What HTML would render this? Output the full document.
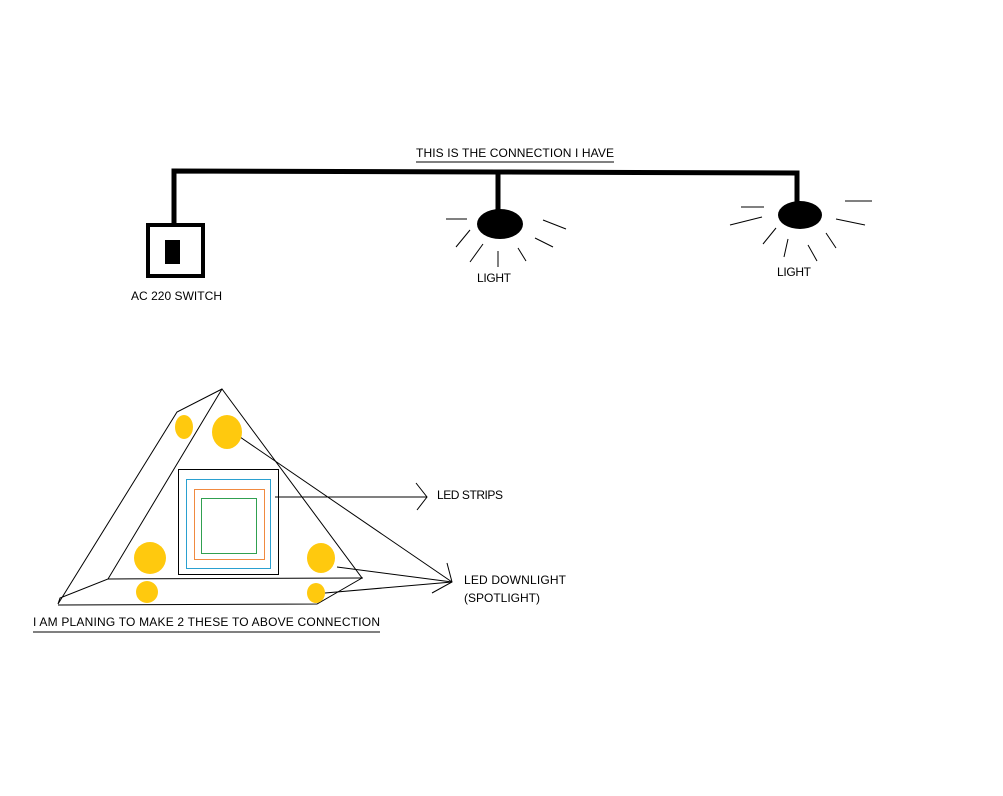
<!DOCTYPE html>
<html><head><style>html,body{margin:0;padding:0;background:#fff}svg{display:block}</style></head><body>
<svg width="1003" height="796" viewBox="0 0 1003 796" xmlns="http://www.w3.org/2000/svg" font-family="Liberation Sans, sans-serif" font-size="12">
<rect width="1003" height="796" fill="#fff"/>
<g stroke="#000" fill="none">
<polyline points="174,224 174,171 497,172 797,173 797,205" stroke-width="5"/>
<line x1="498" y1="172" x2="498" y2="212" stroke-width="5"/>
<rect x="148" y="225" width="55" height="51" stroke-width="4"/>
</g>
<rect x="165" y="240" width="15" height="24" fill="#000"/>
<ellipse cx="500" cy="224" rx="23" ry="15" fill="#000"/>
<ellipse cx="800" cy="215" rx="22" ry="14" fill="#000"/>
<g stroke="#000" stroke-width="1">
<line x1="446" y1="219" x2="467" y2="219"/><line x1="456" y1="247" x2="470" y2="230"/>
<line x1="470" y1="262" x2="483" y2="244"/><line x1="498" y1="251" x2="498" y2="267"/>
<line x1="518" y1="248" x2="526" y2="261"/><line x1="535" y1="238" x2="553" y2="247"/>
<line x1="543" y1="220" x2="566" y2="229"/>
<line x1="741" y1="207" x2="764" y2="207"/><line x1="730" y1="225" x2="762" y2="217"/>
<line x1="763" y1="244" x2="776" y2="228"/><line x1="784" y1="257" x2="788" y2="239"/>
<line x1="808" y1="245" x2="817" y2="261"/><line x1="826" y1="233" x2="836" y2="248"/>
<line x1="836" y1="219" x2="865" y2="225"/><line x1="845" y1="201" x2="872" y2="201"/>
</g>
<text x="416" y="157" textLength="198">THIS IS THE CONNECTION I HAVE</text>
<line x1="416" y1="162" x2="614" y2="162" stroke="#000"/>
<text x="131" y="300" textLength="91">AC 220 SWITCH</text>
<text x="477" y="282" textLength="34">LIGHT</text>
<text x="777" y="276" textLength="34">LIGHT</text>
<g stroke="#000" fill="none" stroke-width="1">
<polyline points="222,389 177,412 58,604 60,598 108,579 222,389 362,578 317,604 58,605"/>
<line x1="108" y1="579" x2="363" y2="578"/>
<rect x="178.5" y="469.5" width="100" height="105"/>
<rect x="186.5" y="479.5" width="84" height="89" stroke="#2aa0d0"/>
<rect x="194.5" y="489.5" width="70" height="70" stroke="#f08a40"/>
<rect x="201.5" y="498.5" width="55" height="55" stroke="#30a050"/>
<line x1="275" y1="497" x2="427" y2="497"/>
<polyline points="416,483 427,497 417,510"/>
<line x1="240" y1="437" x2="452" y2="582"/>
<line x1="337" y1="567" x2="452" y2="582"/>
<line x1="325" y1="593" x2="452" y2="582"/>
<polyline points="447,563 452,582 432,593"/>
</g>
<g fill="#FFC90E">
<ellipse cx="184" cy="427" rx="9" ry="12"/><ellipse cx="227" cy="432" rx="15" ry="17"/>
<ellipse cx="150" cy="558" rx="16" ry="16"/><ellipse cx="321" cy="558" rx="14" ry="15"/>
<ellipse cx="147" cy="592" rx="11" ry="11"/><ellipse cx="316" cy="593" rx="9" ry="10"/>
</g>
<text x="437" y="499" textLength="66">LED STRIPS</text>
<text x="464" y="584" textLength="102">LED DOWNLIGHT</text>
<text x="464" y="602" textLength="76">(SPOTLIGHT)</text>
<text x="33" y="626" textLength="347">I AM PLANING TO MAKE 2 THESE TO ABOVE CONNECTION</text>
<line x1="33" y1="632" x2="380" y2="632" stroke="#000"/>
</svg>
</body></html>
